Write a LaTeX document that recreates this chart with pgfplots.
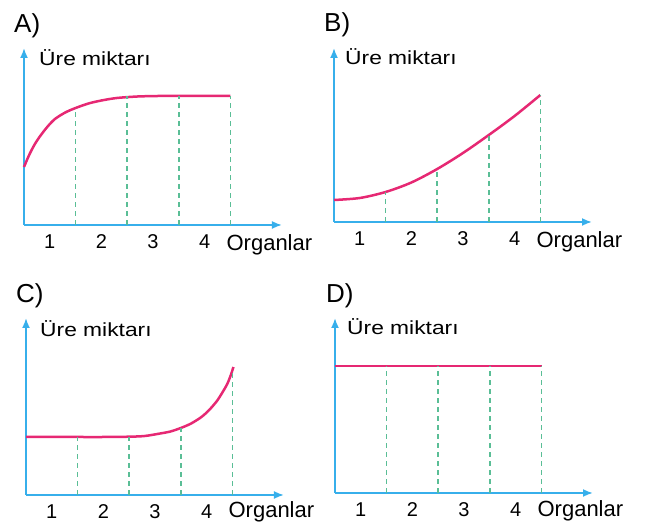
\documentclass[border=0pt]{standalone}
\usepackage{pgfplots}
\pgfplotsset{compat=1.18}
\usepackage{fontspec}
\setmainfont{Liberation Sans}
\newfontfamily\wide[FakeStretch=1.2]{Liberation Sans}
\usetikzlibrary{arrows.meta}
\definecolor{axc}{RGB}{55,175,235}
\definecolor{curvec}{RGB}{230,40,115}
\definecolor{dashc}{RGB}{90,190,150}
\pgfplotsset{
  panel/.style={scale only axis, width=258pt, xmin=0, xmax=5, ymin=0,
    axis lines=left,
    axis line style={draw=axc, line width=1.8pt, -{Latex[length=10pt,width=8pt]}},
    xtick=\empty, ytick=\empty, clip=false, anchor=south west},
  curve/.style={draw=curvec, line width=2.5pt, smooth, no marks},
  dash/.style={draw=dashc, line width=1.5pt, dash pattern=on 5pt off 4pt, no marks},
}
\newcommand{\ticks}[1]{%
  \node[anchor=base,yshift=-24pt,font=\fontsize{20}{24}\selectfont] at (axis cs:0.5,0) {1};
  \node[anchor=base,yshift=-24pt,font=\fontsize{20}{24}\selectfont] at (axis cs:1.5,0) {2};
  \node[anchor=base,yshift=-24pt,font=\fontsize{20}{24}\selectfont] at (axis cs:2.5,0) {3};
  \node[anchor=base,yshift=-24pt,font=\fontsize{20}{24}\selectfont] at (axis cs:3.5,0) {4};
  \node[anchor=base west,yshift=-#1,xshift=-4pt,inner sep=0pt,font=\fontsize{22}{26}\selectfont] at (axis cs:4,0) {Organlar};
}
\begin{document}
\begin{tikzpicture}[x=1pt,y=1pt]
\path[use as bounding box] (0,0) rectangle (651,524);
% Panel A
\begin{axis}[panel, at={(24pt,299pt)}, height=177pt, ymax=177]
\addplot[curve] coordinates {(0,58)(0.1,70)(0.2,80)(0.3,88)(0.45,98)(0.6,106)(0.8,112.5)(1,117)(1.25,121.5)(1.5,124.5)(1.8,127)(2.2,128.5)(2.6,129)(3,129)(4,129)};
\addplot[dash] coordinates {(1,0)(1,117)};
\addplot[dash] coordinates {(2,0)(2,128.5)};
\addplot[dash] coordinates {(3,0)(3,129)};
\addplot[dash] coordinates {(4,0)(4,129)};
\ticks{26pt}
\end{axis}
% Panel B
\begin{axis}[panel, at={(334pt,302pt)}, height=174pt, ymax=174]
\addplot[curve] coordinates {(0,22)(0.5,24)(1,30)(1.5,39.5)(2,53)(2.5,69)(3,87)(3.5,106)(4,127)};
\addplot[dash] coordinates {(1,0)(1,30)};
\addplot[dash] coordinates {(2,0)(2,53)};
\addplot[dash] coordinates {(3,0)(3,87)};
\addplot[dash] coordinates {(4,0)(4,127)};
\ticks{26pt}
\end{axis}
% Panel C
\begin{axis}[panel, at={(26pt,29pt)}, height=177pt, ymax=177]
\addplot[curve] coordinates {(0,58)(1,58)(1.5,58)(2,58.3)(2.3,59)(2.6,61.5)(2.8,63.5)(3,67)(3.2,71.5)(3.4,78)(3.55,85)(3.7,94)(3.8,102)(3.9,111)(3.97,120)(4.02,128)};
\addplot[dash] coordinates {(1,0)(1,58)};
\addplot[dash] coordinates {(2,0)(2,58.3)};
\addplot[dash] coordinates {(3,0)(3,67)};
\addplot[dash] coordinates {(4,0)(4,124)};
\ticks{23pt}
\end{axis}
% Panel D
\begin{axis}[panel, at={(335pt,31pt)}, height=175pt, ymax=175]
\addplot[curve] coordinates {(0,127)(4,127)};
\addplot[dash] coordinates {(1,0)(1,127)};
\addplot[dash] coordinates {(2,0)(2,127)};
\addplot[dash] coordinates {(3,0)(3,127)};
\addplot[dash] coordinates {(4,0)(4,127)};
\ticks{24pt}
\end{axis}
% Titles
\node[anchor=base west,inner sep=0pt,font=\fontsize{26}{30}\selectfont] at (14,491) {A)};
\node[anchor=base west,inner sep=0pt,font=\wide\fontsize{19}{22}\selectfont] at (39,458) {Üre miktarı};
\node[anchor=base west,inner sep=0pt,font=\fontsize{26}{30}\selectfont] at (324,492) {B)};
\node[anchor=base west,inner sep=0pt,font=\wide\fontsize{19}{22}\selectfont] at (345,459) {Üre miktarı};
\node[anchor=base west,inner sep=0pt,font=\fontsize{26}{30}\selectfont] at (16,221) {C)};
\node[anchor=base west,inner sep=0pt,font=\wide\fontsize{19}{22}\selectfont] at (40,187) {Üre miktarı};
\node[anchor=base west,inner sep=0pt,font=\fontsize{26}{30}\selectfont] at (326,221) {D)};
\node[anchor=base west,inner sep=0pt,font=\wide\fontsize{19}{22}\selectfont] at (347,189) {Üre miktarı};
\end{tikzpicture}
\end{document}
